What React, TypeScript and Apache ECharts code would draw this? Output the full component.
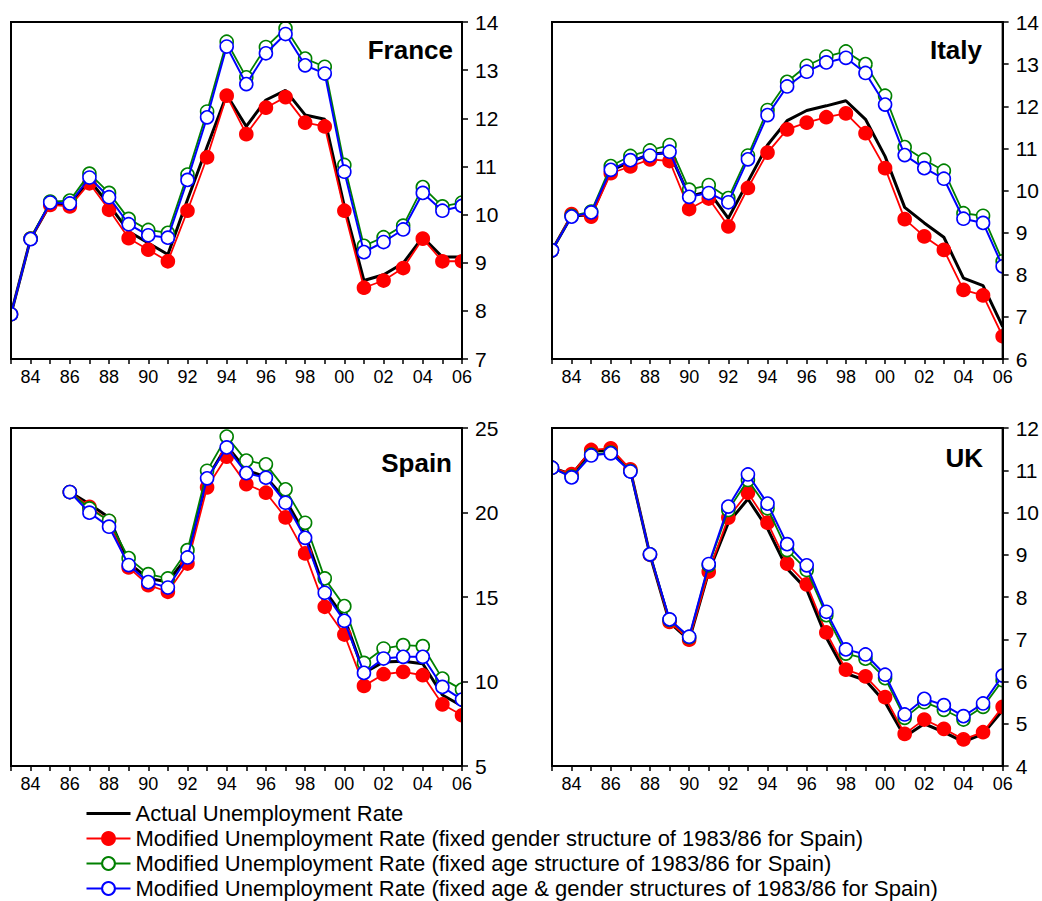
import React, { useEffect, useRef } from "react";
import * as echarts from "echarts";

const years = [1983, 1984, 1985, 1986, 1987, 1988, 1989, 1990, 1991, 1992, 1993, 1994, 1995, 1996, 1997, 1998, 1999, 2000, 2001, 2002, 2003, 2004, 2005, 2006];

const seriesNames = [
  "Actual Unemployment Rate",
  "Modified Unemployment Rate (fixed gender structure of 1983/86 for Spain)",
  "Modified Unemployment Rate (fixed age structure of 1983/86 for Spain)",
  "Modified Unemployment Rate (fixed age & gender structures of 1983/86 for Spain)",
];

const franceActual = [7.93, 9.5, 10.22, 10.21, 10.72, 10.2, 9.65, 9.41, 9.17, 10.31, 11.41, 12.49, 11.83, 12.38, 12.58, 12.07, 11.98, 10.17, 8.63, 8.75, 8.99, 9.53, 9.12, 9.12];
const franceGender = [7.93, 9.5, 10.2, 10.17, 10.65, 10.1, 9.51, 9.27, 9.03, 10.08, 11.19, 12.47, 11.67, 12.22, 12.44, 11.91, 11.83, 10.08, 8.48, 8.63, 8.89, 9.5, 9.03, 9.03];
const franceAge = [7.93, 9.5, 10.27, 10.29, 10.85, 10.45, 9.91, 9.68, 9.62, 10.83, 12.14, 13.59, 12.85, 13.48, 13.87, 13.24, 13.07, 11.03, 9.35, 9.53, 9.77, 10.57, 10.17, 10.25];
const franceBoth = [7.93, 9.49, 10.25, 10.23, 10.77, 10.36, 9.8, 9.57, 9.52, 10.72, 12.02, 13.49, 12.71, 13.35, 13.75, 13.1, 12.93, 10.89, 9.22, 9.43, 9.69, 10.45, 10.08, 10.18];

const italyActual = [8.58, 9.4, 9.42, 10.48, 10.68, 10.86, 10.9, 9.86, 9.98, 9.34, 10.21, 11.08, 11.66, 11.9, 12.01, 12.13, 11.69, 10.81, 9.6, 9.23, 8.89, 7.92, 7.74, 6.77];
const italyGender = [8.58, 9.44, 9.38, 10.41, 10.57, 10.74, 10.7, 9.56, 9.81, 9.15, 10.06, 10.9, 11.45, 11.61, 11.74, 11.83, 11.36, 10.53, 9.32, 8.91, 8.59, 7.64, 7.51, 6.54];
const italyAge = [8.58, 9.4, 9.5, 10.58, 10.82, 10.95, 11.08, 10.02, 10.13, 9.82, 10.83, 11.91, 12.58, 12.96, 13.18, 13.3, 13.0, 12.25, 11.03, 10.73, 10.47, 9.46, 9.4, 8.32];
const italyBoth = [8.58, 9.38, 9.48, 10.49, 10.72, 10.83, 10.92, 9.85, 9.94, 9.72, 10.74, 11.79, 12.47, 12.82, 13.04, 13.15, 12.79, 12.04, 10.84, 10.53, 10.28, 9.33, 9.23, 8.2];

const spainActual = [null, null, null, 21.21, 20.5, 19.7, 17.0, 16.1, 15.9, 17.4, 22.0, 23.95, 22.5, 22.1, 20.75, 18.7, 15.4, 13.75, 10.5, 11.15, 11.2, 11.05, 9.2, 8.55];
const spainGender = [null, null, null, 21.21, 20.34, 19.49, 16.75, 15.7, 15.31, 16.98, 21.49, 23.3, 21.68, 21.17, 19.71, 17.58, 14.42, 12.78, 9.74, 10.43, 10.57, 10.37, 8.65, 8.0];
const spainAge = [null, null, null, 21.21, 20.24, 19.51, 17.3, 16.35, 16.1, 17.77, 22.47, 24.49, 23.07, 22.85, 21.37, 19.39, 16.1, 14.46, 11.1, 11.95, 12.15, 12.09, 10.17, 9.52];
const spainBoth = [null, null, null, 21.21, 19.99, 19.16, 16.89, 15.88, 15.56, 17.34, 22.02, 23.85, 22.33, 22.06, 20.58, 18.5, 15.25, 13.59, 10.51, 11.36, 11.46, 11.46, 9.68, 8.93];

const ukActual = [11.06, 10.9, 11.45, 11.48, 11.0, 9.0, 7.4, 6.98, 8.6, 9.76, 10.32, 9.62, 8.67, 8.18, 7.04, 6.19, 6.03, 5.51, 4.69, 5.0, 4.8, 4.57, 4.76, 5.32];
const ukGender = [11.06, 10.91, 11.48, 11.52, 11.02, 9.0, 7.41, 6.99, 8.6, 9.88, 10.47, 9.76, 8.79, 8.3, 7.16, 6.28, 6.12, 5.63, 4.76, 5.1, 4.88, 4.63, 4.8, 5.4];
const ukAge = [11.06, 10.85, 11.37, 11.42, 10.98, 9.01, 7.46, 7.05, 8.75, 10.06, 10.77, 10.1, 9.11, 8.64, 7.57, 6.66, 6.54, 6.08, 5.14, 5.51, 5.33, 5.1, 5.4, 6.03];
const ukBoth = [11.06, 10.83, 11.35, 11.4, 10.97, 9.01, 7.47, 7.06, 8.78, 10.14, 10.9, 10.21, 9.25, 8.75, 7.65, 6.76, 6.64, 6.16, 5.22, 5.59, 5.44, 5.18, 5.48, 6.14];

const panelTitles = ["France", "Italy", "Spain", "UK"];
const yMins = [7, 6, 5, 4];
const yMaxs = [14, 14, 25, 12];
const yIntervals = [1, 1, 5, 1];

const panelData = [
  [franceActual, franceGender, franceAge, franceBoth],
  [italyActual, italyGender, italyAge, italyBoth],
  [spainActual, spainGender, spainAge, spainBoth],
  [ukActual, ukGender, ukAge, ukBoth],
];

const FONT = "Liberation Sans, Arial, Helvetica, sans-serif";

export default function App() {
  const ref = useRef<HTMLDivElement>(null);
  useEffect(() => {
    if (!ref.current) return;
    const chart = echarts.init(ref.current, null, { renderer: "svg" });

    const gridPos = [
      { left: 11, top: 22, width: 451, height: 337 },
      { left: 552, top: 22, width: 451, height: 337 },
      { left: 11, top: 428, width: 451, height: 338 },
      { left: 552, top: 428, width: 451, height: 338 },
    ];
    const titlePos = [
      { right: 589, top: 37 },
      { right: 60, top: 37 },
      { right: 590, top: 450 },
      { right: 59, top: 445 },
    ];

    const grids = gridPos.map((g) => ({
      ...g,
      show: true,
      z: 10,
      borderColor: "#000",
      borderWidth: 2,
      backgroundColor: "transparent",
    }));

    const xAxes = gridPos.map((_, i) => ({
      type: "value",
      gridIndex: i,
      z: 10,
      min: 1983,
      max: 2006,
      interval: 1,
      axisLine: { show: true, lineStyle: { color: "#000", width: 2 } },
      axisTick: { show: true, length: 5, lineStyle: { color: "#000", width: 1.5 } },
      axisLabel: {
        color: "#000",
        fontSize: 18,
        fontFamily: FONT,
        margin: 9,
        showMinLabel: true,
        showMaxLabel: true,
        formatter: (v: number) => (v % 2 === 0 ? String(v).slice(2) : ""),
      },
      splitLine: { show: false },
    }));

    const yAxes = gridPos.map((_, i) => ({
      type: "value",
      gridIndex: i,
      z: 10,
      position: "right",
      min: yMins[i],
      max: yMaxs[i],
      interval: yIntervals[i],
      axisLine: { show: true, lineStyle: { color: "#000", width: 2 } },
      axisTick: { show: true, length: 6, lineStyle: { color: "#000", width: 1.5 } },
      axisLabel: { color: "#000", fontSize: 21, fontFamily: FONT, margin: 13 },
      splitLine: { show: false },
    }));

    const styles = [
      { color: "#000", width: 3, symbol: "none", fill: "#000", z: 2 },
      { color: "#ff0000", width: 1.8, symbol: "circle", fill: "#ff0000", z: 3 },
      { color: "#008000", width: 1.8, symbol: "circle", fill: "#ffffff", z: 4 },
      { color: "#0000ff", width: 2, symbol: "circle", fill: "#ffffff", z: 5 },
    ];

    const series: any[] = [];
    panelData.forEach((sets, p) => {
      sets.forEach((vals, k) => {
        const st = styles[k];
        series.push({
          type: "line",
          name: seriesNames[k],
          xAxisIndex: p,
          yAxisIndex: p,
          data: years.map((y, j) => [y, vals[j]]),
          symbol: st.symbol,
          symbolSize: 13,
          showSymbol: st.symbol !== "none",
          connectNulls: false,
          z: st.z,
          lineStyle: { color: st.color, width: st.width },
          itemStyle: { color: st.fill, borderColor: st.color, borderWidth: 1.6 },
          emphasis: { disabled: true },
        });
      });
    });

    const titles = panelTitles.map((t, i) => ({
      text: t,
      ...titlePos[i],
      padding: 0,
      textStyle: { fontSize: 26, fontWeight: "bold", fontFamily: FONT, color: "#000" },
    }));

    // white masks outside the plot frames so markers are clipped at the frame
    const mask = (x: number, y: number, w: number, h: number) => ({
      type: "rect",
      z: 6,
      silent: true,
      shape: { x, y, width: w, height: h },
      style: { fill: "#fff" },
    });
    const masks = [
      mask(0, 0, 11, 901),
      mask(463, 0, 88, 901),
      mask(1004, 0, 38, 901),
      mask(0, 0, 1042, 21),
      mask(0, 360, 1042, 67),
      mask(0, 767, 1042, 30),
    ];

    chart.setOption({
      animation: false,
      backgroundColor: "#fff",
      title: titles,
      grid: grids,
      xAxis: xAxes,
      yAxis: yAxes,
      graphic: masks,
      legend: {
        orient: "vertical",
        left: 85,
        top: 802,
        z: 10,
        itemWidth: 44,
        itemHeight: 16,
        itemGap: 2,
        padding: 0,
        selectedMode: false,
        data: [
          { name: seriesNames[0], itemStyle: { opacity: 0 }, lineStyle: { width: 3, color: "#000" } },
          { name: seriesNames[1], lineStyle: { width: 2 } },
          { name: seriesNames[2], lineStyle: { width: 2 } },
          { name: seriesNames[3], lineStyle: { width: 2 } },
        ],
        textStyle: { fontSize: 22, fontFamily: FONT, color: "#000", lineHeight: 23 },
      },
      series,
    });

    return () => chart.dispose();
  }, []);

  return (
    <div
      ref={ref}
      style={{ position: "absolute", left: 0, top: 0, width: 1042, height: 901 }}
    />
  );
}
